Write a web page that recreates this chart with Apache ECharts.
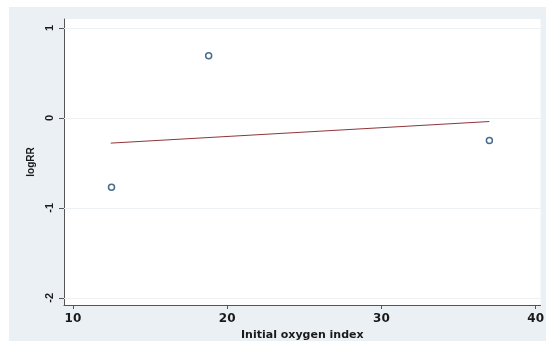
<!DOCTYPE html>
<html>
<head>
<meta charset="utf-8">
<script src="https://cdn.jsdelivr.net/npm/echarts@6/dist/echarts.min.js"></script>
<style>
  html, body { margin: 0; padding: 0; background: #ffffff; }
  #chart { width: 547px; height: 347px; }
</style>
</head>
<body>
<div id="chart"></div>
<script>
// Study-level observations: initial oxygen index vs log relative risk
const oxygenIndex = [12.5, 18.8, 37.0];
const logRR = [-0.77, 0.69, -0.25];

// Fitted meta-regression line (end points)
const fitX = [12.45, 37.0];
const fitY = [-0.28, -0.04];

// Axis tick values
const xTicks = [10, 20, 30, 40];
const yTicks = [-2, -1, 0, 1];

const chart = echarts.init(document.getElementById('chart'), null, { renderer: 'canvas' });

const sans = 'Liberation Sans, Arial, sans-serif';
const wide = 'DejaVu Sans, Verdana, sans-serif';

chart.setOption({
  backgroundColor: '#ffffff',
  animation: false,
  graphic: [{
    type: 'rect',
    z: -10,
    silent: true,
    shape: { x: 9, y: 7, width: 537, height: 334 },
    style: { fill: '#eaf0f3' }
  }],
  grid: {
    left: 64, right: 4, top: 19, bottom: 42,
    show: true,
    backgroundColor: '#ffffff',
    borderWidth: 0
  },
  xAxis: {
    type: 'value',
    min: 9.42, max: 40.32,
    name: 'Initial oxygen index',
    nameLocation: 'middle',
    nameGap: 23,
    nameTextStyle: { fontFamily: wide, fontWeight: 'bold', fontSize: 11, color: '#1a1a1a' },
    axisLine: { show: true, onZero: false, lineStyle: { color: '#555', width: 1 } },
    axisTick: { show: true, length: 4, lineStyle: { color: '#555' }, customValues: xTicks },
    axisLabel: { customValues: xTicks, fontFamily: wide, fontWeight: 'bold', fontSize: 12, color: '#1a1a1a', margin: 8 },
    splitLine: { show: false }
  },
  yAxis: {
    type: 'value',
    min: -2.08, max: 1.1,
    name: 'logRR',
    nameLocation: 'middle',
    nameGap: 20,
    nameRotate: 90,
    nameTextStyle: { fontFamily: sans, fontWeight: 'bold', fontSize: 10, color: '#1a1a1a' },
    axisLine: { show: true, onZero: false, lineStyle: { color: '#555', width: 1 } },
    axisTick: { show: true, length: 5, lineStyle: { color: '#555' }, customValues: yTicks },
    axisLabel: { customValues: yTicks, rotate: 90, fontFamily: sans, fontWeight: 'bold', fontSize: 11, color: '#1a1a1a', margin: 9 },
    splitLine: { show: false }
  },
  series: [
    {
      type: 'line',
      name: 'grid',
      data: [],
      silent: true,
      markLine: {
        silent: true,
        symbol: 'none',
        label: { show: false },
        lineStyle: { color: '#edf1f3', width: 1, type: 'solid' },
        data: yTicks.map(v => ({ yAxis: v }))
      }
    },
    {
      type: 'line',
      name: 'fit',
      data: fitX.map((x, i) => [x, fitY[i]]),
      showSymbol: false,
      lineStyle: { color: '#90353b', width: 1 },
      z: 3
    },
    {
      type: 'scatter',
      name: 'logRR',
      data: oxygenIndex.map((x, i) => [x, logRR[i]]),
      symbol: 'circle',
      symbolSize: 6,
      itemStyle: { color: '#ffffff', borderColor: '#1a476f', borderWidth: 1.5 },
      z: 4
    }
  ]
});
</script>
</body>
</html>
